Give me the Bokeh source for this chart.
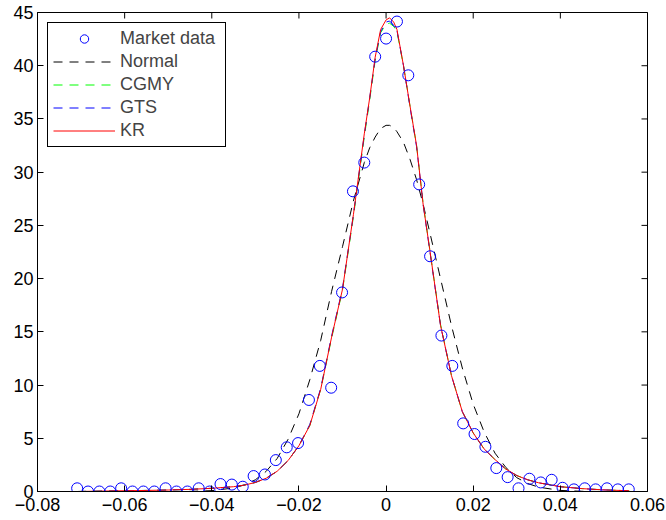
import math
from bokeh.plotting import figure
from bokeh.models import Range1d, FixedTicker, LinearAxis, Legend, LegendItem
from bokeh.embed import file_html
from bokeh.resources import INLINE

# ---- data ----
market_x = [-0.0709, -0.0684, -0.0658, -0.0633, -0.0608, -0.0582, -0.0557, -0.0532,
            -0.0506, -0.0481, -0.0456, -0.0430, -0.0405, -0.0380, -0.0354, -0.0329,
            -0.0304, -0.0278, -0.0253, -0.0228, -0.0202, -0.0177, -0.0152, -0.0126,
            -0.0101, -0.0076, -0.0050, -0.0025, 0.0000, 0.0025, 0.0051, 0.0076,
            0.0101, 0.0127, 0.0152, 0.0177, 0.0203, 0.0228, 0.0253, 0.0279,
            0.0304, 0.0329, 0.0355, 0.0380, 0.0405, 0.0431, 0.0456, 0.0481,
            0.0507, 0.0532, 0.0557]
market_y = [0.3, 0.0, 0.0, 0.0, 0.3, 0.0, 0.0, 0.0,
            0.3, 0.0, 0.0, 0.3, 0.0, 0.7, 0.65, 0.45,
            1.45, 1.6, 2.95, 4.15, 4.55, 8.6, 11.8, 9.75,
            18.7, 28.2, 30.9, 40.85, 42.55, 44.15, 39.1, 28.85,
            22.1, 14.65, 11.8, 6.4, 5.4, 4.2, 2.2, 1.35,
            0.3, 1.2, 0.85, 1.1, 0.35, 0.2, 0.3, 0.2,
            0.3, 0.2, 0.2]

curve_x = [-0.0709, -0.065, -0.06, -0.055, -0.05, -0.045, -0.04, -0.035, -0.0325,
           -0.03, -0.0275, -0.025, -0.0225, -0.02, -0.0175, -0.015, -0.0125, -0.01,
           -0.0075, -0.005, -0.00375, -0.0025, -0.00125, 0.0, 0.0008, 0.00175,
           0.0025, 0.004, 0.0055, 0.007, 0.0085, 0.01, 0.0125, 0.015, 0.0175,
           0.02, 0.0225, 0.025, 0.0275, 0.03, 0.0325, 0.035, 0.04, 0.045, 0.05, 0.0558]
normal_y = [0.0, 0.0, 0.0, 0.0, 0.0, 0.01, 0.08, 0.33, 0.62,
            1.1, 1.9, 3.1, 4.9, 7.3, 10.5, 14.2, 18.8, 23.0,
            27.3, 30.9, 32.3, 33.3, 34.1, 34.4, 34.4, 34.2,
            33.8, 32.8, 31.2, 29.3, 27.0, 24.4, 20.0, 15.6, 11.6,
            8.2, 5.6, 3.6, 2.25, 1.3, 0.75, 0.41, 0.1, 0.02, 0.0, 0.0]
cgmy_y = [0.0, 0.04, 0.07, 0.1, 0.14, 0.2, 0.3, 0.45, 0.6,
          0.85, 1.25, 1.9, 2.9, 4.3, 6.2, 9.6, 14.4, 18.9,
          25.8, 33.3, 36.8, 40.5, 43.1, 43.9, 44.0, 43.7,
          43.2, 40.0, 36.2, 32.5, 27.1, 22.8, 15.7, 10.9, 7.5,
          5.5, 4.0, 3.0, 2.1, 1.5, 1.1, 0.82, 0.45, 0.27, 0.15, 0.07]
gts_y = [0.0, 0.04, 0.07, 0.1, 0.14, 0.2, 0.3, 0.45, 0.6,
         0.85, 1.25, 1.9, 2.9, 4.3, 6.3, 9.7, 14.6, 19.1,
         26.0, 33.5, 37.0, 40.7, 43.2, 44.1, 44.2, 43.8,
         43.3, 40.0, 36.1, 32.4, 27.0, 22.7, 15.6, 10.9, 7.5,
         5.5, 4.0, 3.0, 2.1, 1.5, 1.1, 0.82, 0.45, 0.27, 0.15, 0.07]
kr_y = [0.0, 0.04, 0.07, 0.1, 0.14, 0.2, 0.3, 0.45, 0.6,
        0.85, 1.25, 1.9, 2.9, 4.3, 6.2, 9.6, 14.5, 19.0,
        26.0, 33.6, 37.0, 40.8, 43.4, 44.3, 44.5, 44.1,
        43.4, 40.0, 36.2, 32.5, 27.0, 22.8, 15.6, 10.9, 7.5,
        5.5, 4.0, 3.0, 2.1, 1.5, 1.1, 0.82, 0.45, 0.27, 0.15, 0.07]

x_ticks = [-0.08, -0.06, -0.04, -0.02, 0, 0.02, 0.04, 0.06]
x_tick_labels = ["\u22120.08", "\u22120.06", "\u22120.04", "\u22120.02", "0", "0.02", "0.04", "0.06"]
y_ticks = [0, 5, 10, 15, 20, 25, 30, 35, 40, 45]

X_MIN, X_MAX = -0.08, 0.06
Y_MIN, Y_MAX = 0, 45

FONT = "Liberation Sans"
DASH = "9 7"

p = figure(width=666, height=520, output_backend="svg", toolbar_location=None,
           x_range=Range1d(X_MIN, X_MAX), y_range=Range1d(Y_MIN, Y_MAX),
           min_border_left=37, min_border_right=19, min_border_top=12,
           min_border_bottom=29, x_axis_type=None, y_axis_type=None)
p.grid.visible = False
p.outline_line_color = "black"
p.outline_line_width = 1
p.background_fill_color = "white"
p.border_fill_color = "white"


def style_axis(ax):
    ax.major_tick_in = 6
    ax.major_tick_out = 0
    ax.minor_tick_line_color = None
    ax.axis_line_color = "black"
    ax.major_tick_line_color = "black"
    ax.major_label_text_font = FONT
    ax.major_label_text_color = "black"
    ax.major_label_text_font_size = "18px"


xb = LinearAxis(ticker=FixedTicker(ticks=x_ticks),
                major_label_overrides={t: l for t, l in zip(x_ticks, x_tick_labels)})
style_axis(xb)
xb.major_label_standoff = 6
p.add_layout(xb, "below")

yl = LinearAxis(ticker=FixedTicker(ticks=y_ticks))
style_axis(yl)
yl.major_label_standoff = 4
p.add_layout(yl, "left")

# mirrored box ticks on the top and right edges (MATLAB style); half of each
# dash marker is clipped by the frame, leaving an inward tick
p.scatter(x_ticks, [Y_MAX] * len(x_ticks), marker="dash", size=12, angle=math.pi / 2,
          line_color="black", line_width=1)
p.scatter([X_MAX] * len(y_ticks), y_ticks, marker="dash", size=12,
          line_color="black", line_width=1)

r_norm = p.line(curve_x, normal_y, line_color="black", line_width=1, line_dash=DASH)
r_cgmy = p.line(curve_x, cgmy_y, line_color="#00ff00", line_width=1, line_dash=DASH)
r_gts = p.line(curve_x, gts_y, line_color="#0000ff", line_width=1, line_dash=DASH)
r_kr = p.line(curve_x, kr_y, line_color="#ff0000", line_width=1)
r_mkt = p.scatter(market_x, market_y, marker="circle", size=11, fill_color=None,
                  line_color="#0000ff", line_width=1)

legend = Legend(items=[
    LegendItem(label="Market data", renderers=[r_mkt]),
    LegendItem(label="Normal", renderers=[r_norm]),
    LegendItem(label="CGMY", renderers=[r_cgmy]),
    LegendItem(label="GTS", renderers=[r_gts]),
    LegendItem(label="KR", renderers=[r_kr]),
], location="top_left", margin=10, padding=5, spacing=2,
    glyph_width=62, glyph_height=21, label_height=21, label_width=100,
    label_standoff=5, label_text_font=FONT, label_text_font_size="18px",
    border_line_color="black", border_line_width=1, border_line_alpha=1,
    background_fill_color="white", background_fill_alpha=1)
p.add_layout(legend)

open("out.html", "w").write(file_html(p, INLINE))
